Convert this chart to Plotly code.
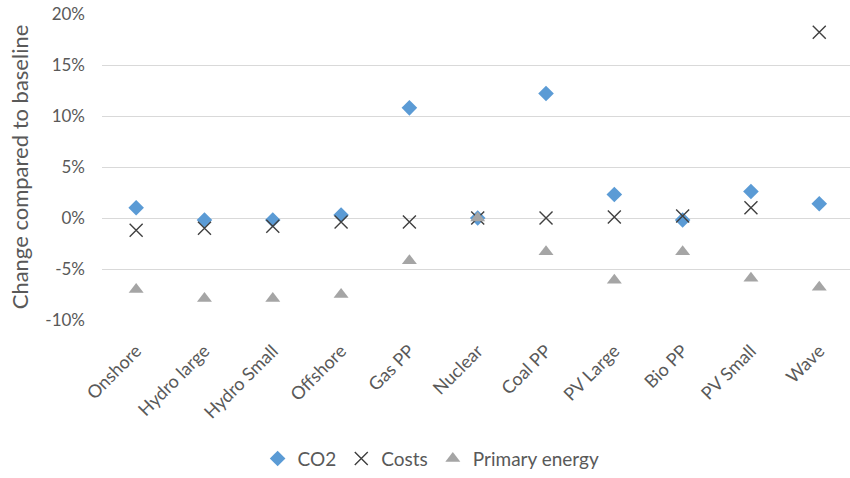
import plotly.graph_objects as go

categories = ["Onshore", "Hydro large", "Hydro Small", "Offshore", "Gas PP", "Nuclear",
              "Coal PP", "PV Large", "Bio PP", "PV Small", "Wave"]
co2 = [1.0, -0.2, -0.2, 0.3, 10.8, 0.0, 12.2, 2.3, -0.2, 2.6, 1.4]
costs = [-1.2, -1.0, -0.8, -0.4, -0.4, 0.0, 0.0, 0.1, 0.2, 1.0, 18.2]
primary_energy = [-7.0, -7.9, -7.9, -7.5, -4.2, 0.0, -3.3, -6.1, -3.3, -5.9, -6.8]
y_ticks = [-10, -5, 0, 5, 10, 15, 20]
y_tick_labels = [f"{v}%" for v in y_ticks]

FONT = "Lato, Open Sans, sans-serif"
TEXT = "#595959"

fig = go.Figure()
fig.add_trace(go.Scatter(
    x=categories, y=co2, mode="markers", name="CO2",
    marker=dict(symbol="diamond", size=12, color="#5B9BD5"),
))
fig.add_trace(go.Scatter(
    x=categories, y=costs, mode="markers", name="Costs",
    marker=dict(symbol="x-thin", size=13, color="#404040",
                line=dict(color="#404040", width=1.4)),
))
fig.add_trace(go.Scatter(
    x=categories, y=primary_energy, mode="markers", name="Primary energy",
    marker=dict(symbol="triangle-up", size=13, color="#A5A5A5"),
))

fig.update_layout(
    width=850, height=478,
    margin=dict(l=102, r=0, t=14, b=155),
    paper_bgcolor="white", plot_bgcolor="white",
    font=dict(family=FONT, color=TEXT, size=17),
    showlegend=True,
    legend=dict(orientation="h", x=0.44, xanchor="center", y=-0.453, yanchor="middle",
                font=dict(size=19, color=TEXT), itemwidth=30, tracegroupgap=0),
    xaxis=dict(
        type="category", range=[-0.5, 10.45], tickangle=-45,
        showgrid=False, showline=False, ticks="",
        tickfont=dict(size=18, color=TEXT),
        ticklabelstandoff=16,
    ),
    yaxis=dict(
        range=[-10, 20], tickvals=y_ticks, ticktext=y_tick_labels,
        showgrid=True, gridcolor="#D9D9D9", gridwidth=1,
        zeroline=False, showline=False, ticks="",
        tickfont=dict(size=17, color=TEXT),
        ticklabelstandoff=16,
        title=dict(text="Change compared to baseline", font=dict(size=22, color=TEXT), standoff=10),
    ),
)

fig.write_html("out.html")
